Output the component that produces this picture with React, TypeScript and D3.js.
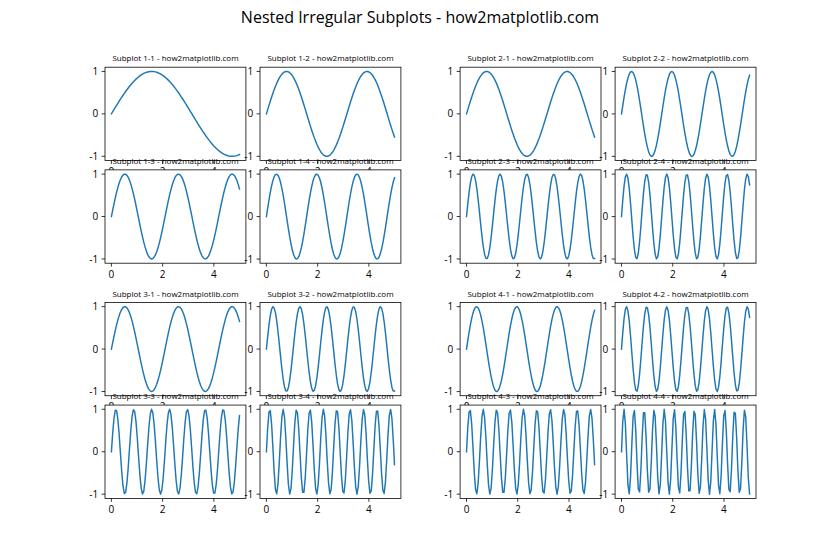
import React from 'react';
import * as d3 from 'd3';

const W = 840;
const H = 560;
const FONT = '"Open Sans", "Noto Sans", "DejaVu Sans", sans-serif';
const COLOR = '#1f77b4';

const figTitle = 'Nested Irregular Subplots - how2matplotlib.com';
const subplotIds = ['1-1', '1-2', '1-3', '1-4', '2-1', '2-2', '2-3', '2-4', '3-1', '3-2', '3-3', '3-4', '4-1', '4-2', '4-3', '4-4'];
const frequencies = [1, 2, 3, 4, 2, 4, 6, 8, 3, 6, 9, 12, 4, 8, 12, 16];
const xTicks = [0, 2, 4];
const yTicks = [-1, 0, 1];
const xStart = 0;
const xEnd = 5;
const nPoints = 100;

function cells(start: number, end: number, n: number, space: number): [number, number][] {
  const c = (end - start) / (n + (n - 1) * space);
  const g = c * space;
  return d3.range(n).map((i) => [start + i * (c + g), start + i * (c + g) + c] as [number, number]);
}

const figLeft = 0.125 * W;
const figRight = 0.9 * W;
const figTop = (1 - 0.88) * H;
const figBottom = (1 - 0.11) * H;

const outerCols = cells(figLeft, figRight, 2, 0.2);
const outerRows = cells(figTop, figBottom, 2, 0.2);

type Box = { x0: number; x1: number; y0: number; y1: number };
const boxes: Box[] = [];
for (let orow = 0; orow < 2; orow++) {
  for (let ocol = 0; ocol < 2; ocol++) {
    const ic = cells(outerCols[ocol][0], outerCols[ocol][1], 2, 0.1);
    const ir = cells(outerRows[orow][0], outerRows[orow][1], 2, 0.1);
    for (let r = 0; r < 2; r++) {
      for (let c = 0; c < 2; c++) {
        boxes.push({ x0: ic[c][0], x1: ic[c][1], y0: ir[r][0], y1: ir[r][1] });
      }
    }
  }
}

const xs = d3.range(nPoints).map((i) => xStart + ((xEnd - xStart) * i) / (nPoints - 1));

function fmt(v: number) {
  return v < 0 ? '-' + Math.abs(v) : String(v);
}

function Subplot({ box, id, freq }: { box: Box; id: string; freq: number }) {
  const data = xs.map((x) => [x, Math.sin(freq * x)] as [number, number]);
  const [ymin, ymax] = d3.extent(data, (d) => d[1]) as [number, number];
  const yPad = (ymax - ymin) * 0.05;
  const xPad = (xEnd - xStart) * 0.05;
  const x = d3.scaleLinear().domain([xStart - xPad, xEnd + xPad]).range([box.x0, box.x1]);
  const y = d3.scaleLinear().domain([ymin - yPad, ymax + yPad]).range([box.y1, box.y0]);
  const line = d3.line<[number, number]>().x((d) => x(d[0])).y((d) => y(d[1]));
  const tick = 3.4;
  const pad = 3.4;
  return (
    <g>
      <rect x={box.x0} y={box.y0} width={box.x1 - box.x0} height={box.y1 - box.y0} fill="white" />
      <path d={line(data) || ''} fill="none" stroke={COLOR} strokeWidth={1.46} strokeLinejoin="round" strokeLinecap="square" />
      <rect x={box.x0} y={box.y0} width={box.x1 - box.x0} height={box.y1 - box.y0} fill="none" stroke="black" strokeWidth={0.78} />
      {xTicks.map((t) => (
        <g key={'x' + t}>
          <line x1={x(t)} x2={x(t)} y1={box.y1} y2={box.y1 + tick} stroke="black" strokeWidth={0.78} />
          <text x={x(t)} y={box.y1 + tick + pad} dy="0.76em" textAnchor="middle" fontSize={10} fontFamily={FONT} fill="black">{fmt(t)}</text>
        </g>
      ))}
      {yTicks.map((t) => (
        <g key={'y' + t}>
          <line x1={box.x0 - tick} x2={box.x0} y1={y(t)} y2={y(t)} stroke="black" strokeWidth={0.78} />
          <text x={box.x0 - tick - pad} y={y(t)} dy="0.36em" textAnchor="end" fontSize={10} fontFamily={FONT} fill="black">{fmt(t)}</text>
        </g>
      ))}
      <text x={(box.x0 + box.x1) / 2} y={box.y0 - 5.8} textAnchor="middle" fontSize={8} fontFamily={FONT} fill="black">
        {`Subplot ${id} - how2matplotlib.com`}
      </text>
    </g>
  );
}

export default function App() {
  return (
    <svg width={W} height={H} style={{ display: 'block', position: 'absolute', left: 0, top: 0 }}>
      <rect x={0} y={0} width={W} height={H} fill="white" />
      <text x={W / 2} y={23} textAnchor="middle" fontSize={16} fontFamily={FONT} fill="black">{figTitle}</text>
      {boxes.map((b, i) => (
        <Subplot key={i} box={b} id={subplotIds[i]} freq={frequencies[i]} />
      ))}
    </svg>
  );
}
